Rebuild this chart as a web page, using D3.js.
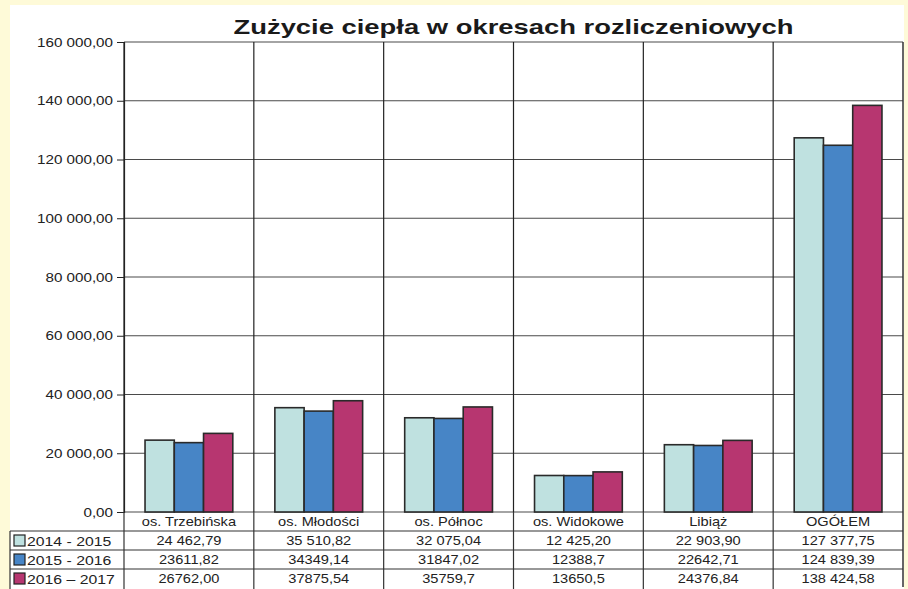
<!DOCTYPE html>
<html>
<head>
<meta charset="utf-8">
<script src="https://cdn.jsdelivr.net/npm/d3@7"></script>
<style>
  body { margin: 0; background: #fefad8; }
  svg { display: block; font-family: "Liberation Sans", Arial, sans-serif; }
</style>
</head>
<body>
<div id="chart"></div>
<script>
var categories = ["os. Trzebińska", "os. Młodości", "os. Północ", "os. Widokowe", "Libiąż", "OGÓŁEM"];
var seriesNames = ["2014 - 2015", "2015 - 2016", "2016 – 2017"];
var values2014 = [24462.79, 35510.82, 32075.04, 12425.20, 22903.90, 127377.75];
var values2015 = [23611.82, 34349.14, 31847.02, 12388.7, 22642.71, 124839.39];
var values2016 = [26762.00, 37875.54, 35759.7, 13650.5, 24376.84, 138424.58];
var labels2014 = ["24 462,79", "35 510,82", "32 075,04", "12 425,20", "22 903,90", "127 377,75"];
var labels2015 = ["23611,82", "34349,14", "31847,02", "12388,7", "22642,71", "124 839,39"];
var labels2016 = ["26762,00", "37875,54", "35759,7", "13650,5", "24376,84", "138 424,58"];
var yTicks = [0, 20000, 40000, 60000, 80000, 100000, 120000, 140000, 160000];
var colors = ["#bfe1e0", "#4785c6", "#b73670"];

var width = 908, height = 589;
var margin = { top: 42, left: 124, right: 5, bottom: 77 };
var k = 1.17; // the original text is drawn a bit wider than Arial

var series = [values2014, values2015, values2016];
var tableLabels = [labels2014, labels2015, labels2016];

// place text at x but stretched horizontally
function stretch(sel, xf) {
  sel.attr("x", function(d, i) { return xf(d, i) / k; })
     .attr("transform", "scale(" + k + ",1)");
}

var svg = d3.select("#chart").append("svg")
            .attr("width", width)
            .attr("height", height);

// white panel
svg.append("rect")
   .attr("x", 10).attr("y", 5)
   .attr("width", 894).attr("height", height - 5)
   .attr("fill", "#fff");

var x = d3.scaleBand()
          .domain(categories)
          .range([margin.left, width - margin.right])
          .padding(0);

var bw = x.bandwidth();
var x1 = d3.scaleBand()
           .domain(d3.range(seriesNames.length))
           .range([bw * 0.162, bw * 0.838])
           .padding(0);

var y = d3.scaleLinear()
          .domain([0, 160000])
          .range([height - margin.bottom, margin.top]);

var fmt = function(v) {
  return d3.format(",.2f")(v).replace(/,/g, " ").replace(".", ",");
};

// horizontal grid
svg.append("g")
   .selectAll("line")
   .data(yTicks)
   .enter().append("line")
   .attr("x1", margin.left).attr("x2", width - margin.right)
   .attr("y1", d => y(d)).attr("y2", d => y(d))
   .attr("stroke", "#4a4a4a")
   .attr("stroke-width", 1.2);

// vertical category separators
svg.append("g")
   .selectAll("line")
   .data(categories)
   .enter().append("line")
   .attr("x1", d => x(d)).attr("x2", d => x(d))
   .attr("y1", margin.top).attr("y2", height - margin.bottom)
   .attr("stroke", "#222")
   .attr("stroke-width", 1.2);

svg.append("line")
   .attr("x1", width - margin.right).attr("x2", width - margin.right)
   .attr("y1", margin.top).attr("y2", height - 2)
   .attr("stroke", "#333")
   .attr("stroke-width", 1.5);

// y axis
var yAxis = d3.axisLeft(y)
              .tickValues(yTicks)
              .tickSize(7)
              .tickPadding(4)
              .tickFormat(fmt);

var ga = svg.append("g")
            .attr("transform", "translate(" + margin.left + ",0)")
            .call(yAxis);
ga.select(".domain").attr("stroke", "#222").attr("stroke-width", 1.2);
ga.selectAll(".tick line").attr("stroke", "#222");
ga.selectAll(".tick text")
  .attr("font-size", 13).attr("fill", "#222")
  .attr("font-family", "'Liberation Sans', Arial, sans-serif")
  .call(stretch, () => -11);

// bars
var groups = svg.append("g")
                .selectAll("g")
                .data(categories)
                .enter().append("g")
                .attr("transform", d => "translate(" + x(d) + ",0)");

groups.selectAll("rect")
      .data((d, i) => series.map((s, j) => ({ j: j, v: s[i] })))
      .enter().append("rect")
      .attr("x", d => x1(d.j))
      .attr("width", x1.bandwidth())
      .attr("y", d => y(d.v))
      .attr("height", d => y(0) - y(d.v))
      .attr("fill", d => colors[d.j])
      .attr("stroke", "#2a2a2a")
      .attr("stroke-width", 1.6);

// title
svg.append("text")
   .attr("x", (margin.left + width - margin.right) / 2)
   .attr("y", 34)
   .attr("text-anchor", "middle")
   .attr("font-size", 21)
   .attr("font-weight", "bold")
   .attr("fill", "#1a1a1a")
   .attr("textLength", 560)
   .attr("lengthAdjust", "spacingAndGlyphs")
   .text("Zużycie ciepła w okresach rozliczeniowych");

// data table
var rowH = 19;
var tableTop = y(0);
var tableLeft = 10;
var tbl = svg.append("g");

// category row
tbl.selectAll(".cat")
   .data(categories)
   .enter().append("text")
   .attr("y", tableTop + 14)
   .attr("text-anchor", "middle")
   .attr("font-size", 12.5)
   .attr("fill", "#222")
   .text(d => d)
   .call(stretch, d => x(d) + bw / 2);

var rows = tbl.selectAll(".row")
              .data(seriesNames)
              .enter().append("g")
              .attr("transform", (d, i) => "translate(0," + (tableTop + rowH * (i + 1)) + ")");

rows.append("rect")
    .attr("x", 14).attr("y", 4)
    .attr("width", 11).attr("height", 11)
    .attr("fill", (d, i) => colors[i])
    .attr("stroke", "#222")
    .attr("stroke-width", 1.2);

rows.append("text")
    .attr("y", 15)
    .attr("font-size", 13.5)
    .attr("fill", "#222")
    .text(d => d)
    .call(stretch, () => 27);

rows.selectAll(".val")
    .data((d, i) => tableLabels[i])
    .enter().append("text")
    .attr("y", 14)
    .attr("text-anchor", "middle")
    .attr("font-size", 12.5)
    .attr("fill", "#222")
    .text(d => d)
    .call(stretch, (d, j) => x(categories[j]) + bw / 2);

// table lines
var lineCol = "#333";
[1, 2, 3].forEach(function(r) {
  tbl.append("line")
     .attr("x1", tableLeft).attr("x2", width - margin.right)
     .attr("y1", tableTop + rowH * r).attr("y2", tableTop + rowH * r)
     .attr("stroke", lineCol).attr("stroke-width", 1.2);
});
tbl.append("line")
   .attr("x1", tableLeft).attr("x2", tableLeft)
   .attr("y1", tableTop + rowH).attr("y2", height)
   .attr("stroke", lineCol).attr("stroke-width", 1.2);
tbl.selectAll(".vl")
   .data(categories)
   .enter().append("line")
   .attr("x1", d => x(d)).attr("x2", d => x(d))
   .attr("y1", tableTop).attr("y2", height)
   .attr("stroke", lineCol).attr("stroke-width", 1.2);
</script>
</body>
</html>
